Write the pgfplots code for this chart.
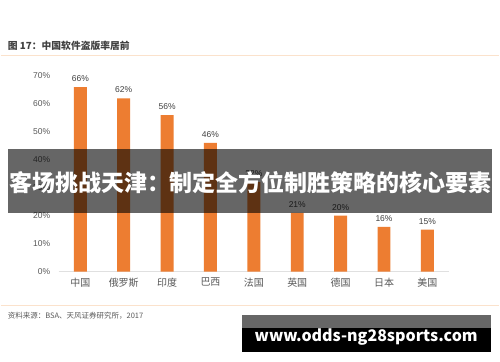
\documentclass[border=0pt]{standalone}
\usepackage{pgfplots}
\pgfplotsset{compat=1.18}
\usepackage{fontspec}
\setmainfont{Noto Sans CJK SC}
\newfontfamily\numfont{Liberation Sans}
\definecolor{barorange}{HTML}{ED7D31}
\definecolor{txtgray}{HTML}{595959}
\definecolor{titlegray}{HTML}{404040}
\definecolor{peach}{HTML}{FBE2CC}
\begin{document}
\begin{tikzpicture}[x=1pt,y=1pt]
\fill[white] (0,0) rectangle (500,362);
\draw[peach, line width=1.5pt] (0,306.3) -- (499,306.3);
\draw[peach, line width=1.2pt] (0,56.3) -- (499,56.3);
\node[anchor=west, inner sep=0pt, font=\fontsize{9.8}{11}\selectfont\bfseries, text=titlegray] at (7,316) {图 17：中国软件盗版率居前};
\node[anchor=west, inner sep=0pt, font=\fontsize{7.5}{9}\selectfont, text=txtgray] at (7,46) {资料来源：BSA、天风证券研究所，2017};
\begin{axis}[
  at={(58pt,90pt)}, anchor=south west,
  scale only axis, width=391pt, height=196pt,
  xmin=-0.5, xmax=8.5, ymin=0, ymax=70,
  enlargelimits=false,
  axis x line=bottom, axis y line=left,
  axis line style={-},
  x axis line style={draw=black!12, line width=1pt},
  y axis line style={draw=none},
  major tick length=0pt,
  xtick={0,...,8},
  xticklabels={中国,俄罗斯,印度,巴西,法国,英国,德国,日本,美国},
  ytick={0,10,...,70},
  yticklabel={\pgfmathprintnumber{\tick}\%},
  /pgf/number format/assume math mode=true,
  yticklabel style={font=\numfont\fontsize{8.5}{10}\selectfont, text=txtgray, xshift=-5pt},
  xticklabel style={font=\fontsize{10}{12}\selectfont, text=txtgray, yshift=-3pt},
  ybar, bar width=13pt,
  nodes near coords={\pgfmathprintnumber{\pgfplotspointmeta}\%},
  nodes near coords style={font=\numfont\fontsize{8.5}{10}\selectfont, text=titlegray, yshift=2pt},
  clip=false,
]
\addplot[fill=barorange, draw=none] coordinates {(0,66) (1,62) (2,56) (3,46) (4,32) (5,21) (6,20) (7,16) (8,15)};
\end{axis}
\fill[black, opacity=0.6] (7,149) rectangle (492,213);
\node[inner sep=0pt, font=\fontsize{23}{26}\selectfont\bfseries, text=white] at (250,179) {客场挑战天津：制定全方位制胜策略的核心要素};
\fill[black!60] (242,34) rectangle (491,47);
\fill[black] (242,9) rectangle (491,34);
\node[inner sep=0pt, font=\fontsize{16}{18}\selectfont\bfseries, text=white] at (366,24) {www.odds-ng28sports.com};
\end{tikzpicture}
\end{document}
